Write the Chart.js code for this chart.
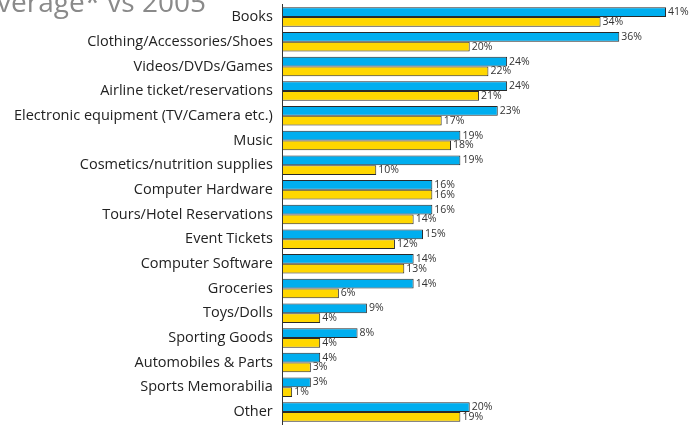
<!DOCTYPE html>
<html>
<head>
<meta charset="utf-8">
<script src="https://cdn.jsdelivr.net/npm/chart.js@4/dist/chart.umd.min.js"></script>
<style>
  html, body { margin: 0; padding: 0; background: #fff; overflow: hidden; }
  #wrap { position: relative; width: 694px; height: 457px; margin-top: -14px; }
</style>
</head>
<body>
<div id="wrap"><canvas id="c"></canvas></div>
<script>
const categories = [
  "Books",
  "Clothing/Accessories/Shoes",
  "Videos/DVDs/Games",
  "Airline ticket/reservations",
  "Electronic equipment (TV/Camera etc.)",
  "Music",
  "Cosmetics/nutrition supplies",
  "Computer Hardware",
  "Tours/Hotel Reservations",
  "Event Tickets",
  "Computer Software",
  "Groceries",
  "Toys/Dolls",
  "Sporting Goods",
  "Automobiles & Parts",
  "Sports Memorabilia",
  "Other"
];
const seriesBlue = [41, 36, 24, 24, 23, 19, 19, 16, 16, 15, 14, 14, 9, 8, 4, 3, 20];
const seriesYellow = [34, 20, 22, 21, 17, 18, 10, 16, 14, 12, 13, 6, 4, 4, 3, 1, 19];
const titleText = "Average* vs 2005";

const FONT = "'Open Sans', 'Noto Sans', sans-serif";

const valueLabels = {
  id: 'valueLabels',
  afterDatasetsDraw(chart) {
    const ctx = chart.ctx;
    ctx.save();
    ctx.font = "10.5px " + FONT;
    ctx.fillStyle = "#333";
    ctx.textAlign = "left";
    ctx.textBaseline = "middle";
    chart.data.datasets.forEach((ds, di) => {
      const meta = chart.getDatasetMeta(di);
      meta.data.forEach((bar, i) => {
        ctx.fillText(ds.data[i] + "%", bar.x + 2, bar.y);
      });
    });
    ctx.restore();
  }
};

const titlePlugin = {
  id: 'titleText',
  afterDraw(chart) {
    const ctx = chart.ctx;
    ctx.save();
    ctx.font = "28px " + FONT;
    ctx.fillStyle = "#8a8a8a";
    ctx.textAlign = "right";
    ctx.textBaseline = "alphabetic";
    ctx.fillText(titleText, 206, 26);
    ctx.restore();
  }
};

new Chart(document.getElementById('c'), {
  type: 'bar',
  data: {
    labels: categories,
    datasets: [
      { label: 'Blue', data: seriesBlue, backgroundColor: '#00aeef', borderColor: '#2a2a2a', borderWidth: 1, borderSkipped: 'left', barPercentage: 1, categoryPercentage: 0.79 },
      { label: 'Yellow', data: seriesYellow, backgroundColor: '#ffd700', borderColor: '#2a2a2a', borderWidth: 1, borderSkipped: 'left', barPercentage: 1, categoryPercentage: 0.79 }
    ]
  },
  options: {
    indexAxis: 'y',
    responsive: true,
    maintainAspectRatio: false,
    animation: false,
    layout: { padding: { top: 0, right: 28, bottom: 0, left: 4 } },
    plugins: { legend: { display: false }, tooltip: { enabled: false }, title: { display: false } },
    scales: {
      x: {
        min: 0, max: 41,
        display: false,
        grid: { display: false }
      },
      y: {
        grid: { display: false, drawTicks: false },
        border: { display: true, color: '#333', width: 1 },
        ticks: { color: '#222', font: { family: FONT, size: 14.5 }, padding: 10, autoSkip: false }
      }
    }
  },
  plugins: [valueLabels, titlePlugin]
});
</script>
</body>
</html>
